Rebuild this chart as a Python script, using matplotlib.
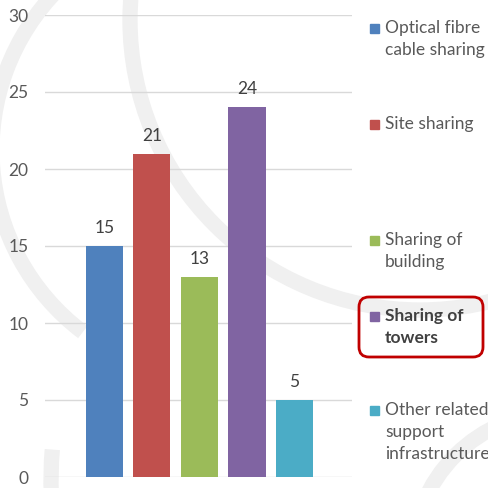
import numpy as np
import matplotlib
matplotlib.use("Agg")
import matplotlib.pyplot as plt
from matplotlib.patches import Rectangle, FancyBboxPatch, Arc, Circle

# data
series = ["Optical fibre\ncable sharing", "Site sharing", "Sharing of\nbuilding",
          "Sharing of\ntowers", "Other related\nsupport\ninfrastructure"]
values = [15, 21, 13, 24, 5]
colors = ["#4F81BD", "#C0504D", "#9BBB59", "#8064A2", "#4BACC6"]
yticks = [0, 5, 10, 15, 20, 25, 30]
highlight = 3   # the boxed legend entry

plt.rcParams['font.family'] = ['Lato', 'DejaVu Sans']

W, H = 489, 488
fig = plt.figure(figsize=(W/100, H/100), dpi=100)
fig.patch.set_facecolor("white")

# faint watermark arcs behind everything (pixel coords, y down)
bg = fig.add_axes([0, 0, 1, 1], zorder=0)
bg.set_xlim(0, W)
bg.set_ylim(H, 0)
bg.axis("off")
arc_col = "#f0f0f0"
lw_arc = 11
bg.add_patch(Circle((420, 20), 290, fill=False, ec=arc_col, lw=lw_arc))
bg.add_patch(Arc((220, 150), 456, 456, theta1=127, theta2=225, ec=arc_col, lw=lw_arc))
bg.add_patch(Arc((400, 480), 698, 698, theta1=155, theta2=185, ec=arc_col, lw=lw_arc))
bg.add_patch(Circle((560, 560), 148, fill=False, ec=arc_col, lw=lw_arc))

ax = fig.add_axes([45/W, 1-477/H, (352-45)/W, (477-15)/H], zorder=1)
ax.patch.set_alpha(0)
x = np.arange(len(values))
ax.bar(x, values, width=0.78, color=colors, zorder=3)
for xi, v in zip(x, values):
    ax.text(xi, v + 1.17, str(v), ha="center", va="center", fontsize=12.5, color="#404040")

ax.set_ylim(0, 30)
ax.set_xlim(-1.25, 5.21)
ax.set_yticks(yticks)
ax.set_yticklabels([str(t) for t in yticks], fontsize=12.5, color="#595959")
ax.tick_params(axis="y", length=0, pad=12)
ax.set_xticks([])
ax.grid(axis="y", color="#d9d9d9", lw=1, zorder=0)
for s in ax.spines.values():
    s.set_visible(False)

# legend drawn by hand on the right
lg = fig.add_axes([0, 0, 1, 1], zorder=2)
lg.set_xlim(0, W)
lg.set_ylim(H, 0)
lg.axis("off")
first_line = [28, 124, 240, 316, 410]
for i, (lab, c, y0) in enumerate(zip(series, colors, first_line)):
    lg.add_patch(Rectangle((370, y0 - 4), 9, 9, color=c))
    bold = (i == highlight)
    for k, line in enumerate(lab.split("\n")):
        lg.text(385, y0 + 22*k, line, ha="left", va="center", fontsize=12.5,
                color="#404040" if bold else "#595959",
                fontweight="bold" if bold else "normal")
lg.add_patch(FancyBboxPatch((359, 297), 124, 60, boxstyle="round,pad=0,rounding_size=10",
                            fill=False, ec="#C00000", lw=2))

fig.savefig("out.png", dpi=100)
